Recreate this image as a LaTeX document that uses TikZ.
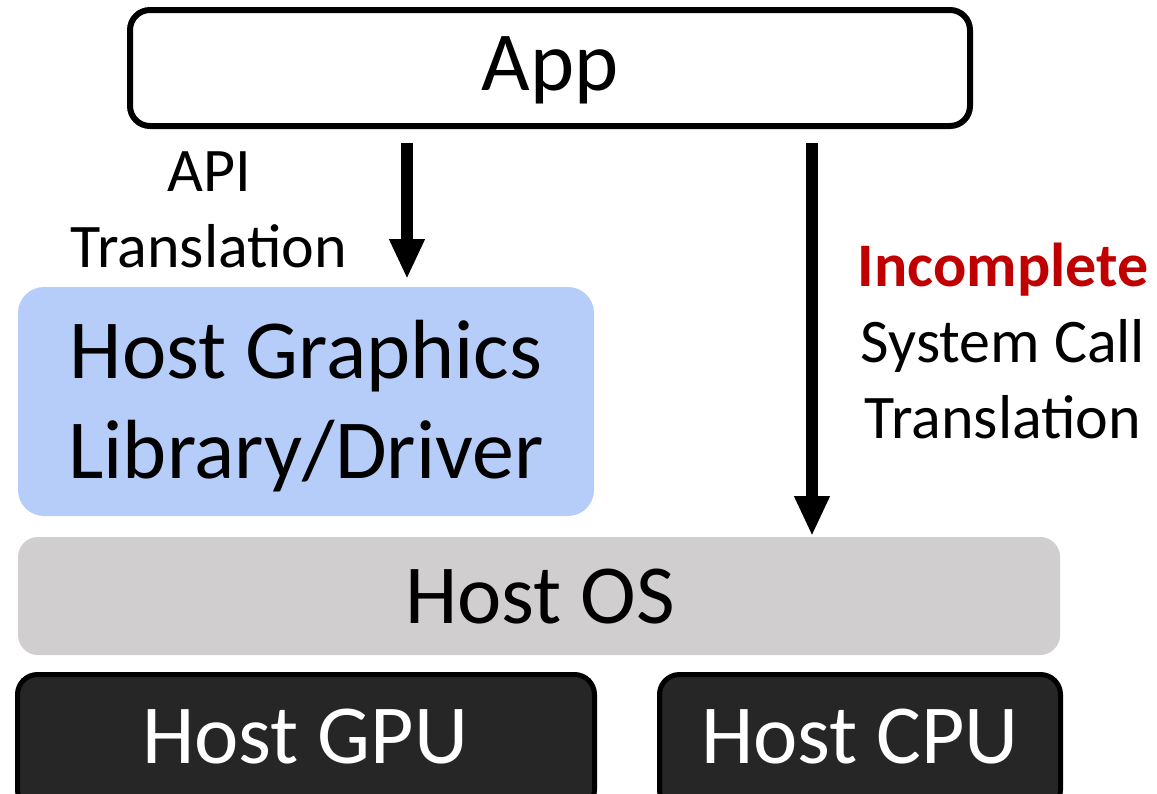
\documentclass[tikz,border=0pt]{standalone}
\usepackage{fontspec}
\setmainfont{Carlito}
\usetikzlibrary{arrows.meta}
\definecolor{blueFill}{RGB}{182,205,250}
\definecolor{grayFill}{RGB}{208,206,206}
\definecolor{darkFill}{RGB}{38,38,38}
\definecolor{redText}{RGB}{192,0,0}
\tikzset{
  bigtxt/.style={font=\fontsize{84}{100}\selectfont},
  smalltxt/.style={font=\fontsize{62}{76}\selectfont, align=center},
  appbox/.style={draw=black, line width=6pt, rounded corners=20pt, fill=white},
  libbox/.style={fill=blueFill, rounded corners=26pt},
  osbox/.style={fill=grayFill, rounded corners=20pt},
  hwbox/.style={draw=black, fill=darkFill, line width=5pt, rounded corners=20pt},
  bigarrow/.style={line width=12pt, -{Triangle[width=33pt,length=40pt]}},
}
\begin{document}
\begin{tikzpicture}[x=1pt,y=-1pt]
\useasboundingbox (0,0) rectangle (1157,793);
\clip (0,0) rectangle (1157,793);
% boxes
\draw[appbox] (130,10) rectangle (970,126);
\node[bigtxt] (app) at (550,70) {App};
\fill[libbox] (18,287) rectangle (594,516);
\node[bigtxt, align=center] (lib) at (306,406) {Host Graphics\\[0pt]Library/Driver};
\fill[osbox] (18,537) rectangle (1060,655);
\node[bigtxt] (os) at (540,597) {Host OS};
\draw[hwbox] (17.5,674.5) rectangle (594.5,810);
\node[bigtxt, text=white] (gpu) at (305,737) {Host GPU};
\draw[hwbox] (659.5,674.5) rectangle (1060.5,810);
\node[bigtxt, text=white] (cpu) at (860,737) {Host CPU};
% arrow anchors
\coordinate (a1s) at (407,143);
\coordinate (a1e) at (407,279);
\coordinate (a2s) at (812,143);
\coordinate (a2e) at (812,536);
\draw[bigarrow] (a1s) -- (a1e);
\draw[bigarrow] (a2s) -- (a2e);
% labels
\node[smalltxt] (apil) at (209,210) {API\\Translation};
\node[smalltxt] (sysl) at (1003,341) {{\color{redText}\bfseries Incomplete}\\System Call\\Translation};
\end{tikzpicture}
\end{document}
